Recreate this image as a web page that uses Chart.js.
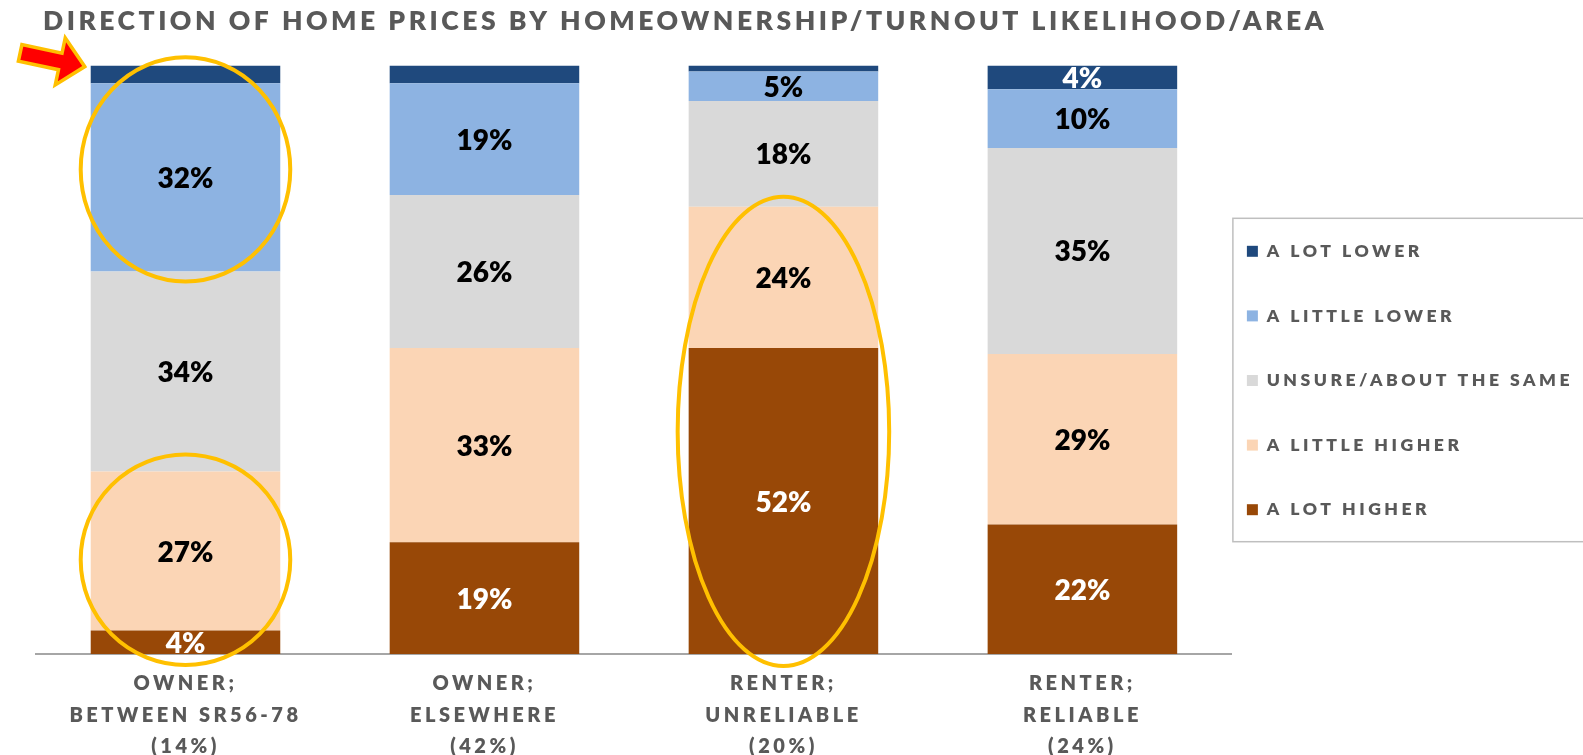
<!DOCTYPE html>
<html>
<head>
<meta charset="utf-8">
<script src="https://cdn.jsdelivr.net/npm/chart.js@4.4.1/dist/chart.umd.min.js"></script>
<style>
  html, body { margin: 0; padding: 0; background: #fff; }
</style>
</head>
<body>
<canvas id="homePrices" width="1583" height="755"></canvas>
<script>
// Values (100% stacked, bottom to top).
const chartTitle = 'DIRECTION OF HOME PRICES BY HOMEOWNERSHIP/TURNOUT LIKELIHOOD/AREA';
const categories = [
  ['OWNER;', 'BETWEEN SR56-78', '(14%)'],
  ['OWNER;', 'ELSEWHERE', '(42%)'],
  ['RENTER;', 'UNRELIABLE', '(20%)'],
  ['RENTER;', 'RELIABLE', '(24%)']
];
const seriesNames = ['A LOT HIGHER', 'A LITTLE HIGHER', 'UNSURE/ABOUT THE SAME', 'A LITTLE LOWER', 'A LOT LOWER'];
const aLotHigher = [4, 19, 52, 22];
const aLittleHigher = [27, 33, 24, 29];
const unsureSame = [34, 26, 18, 35];
const aLittleLower = [32, 19, 5, 10];
const aLotLower = [3, 3, 1, 4];

const seriesValues = [aLotHigher, aLittleHigher, unsureSame, aLittleLower, aLotLower];
const seriesColours = ['#984807', '#FBD5B5', '#D9D9D9', '#8DB3E2', '#1F497D'];
const labelColours = ['#FFFFFF', '#000000', '#000000', '#000000', '#FFFFFF'];

const GREY = '#595959';
const SPACING = '3.5px';
const HEAVY = '800';

// Canvas letter spacing for the caps text (title, ticks, legend).
const spacingPlugin = {
  id: 'spacing',
  beforeUpdate(chart) { chart.ctx.letterSpacing = SPACING; },
  beforeDraw(chart) { chart.ctx.letterSpacing = SPACING; },
  afterLayout(chart) {
    // nudge title and legend to where the slide has them
    let t = chart.titleBlock;
    t.left += 7; t.right += 7;
    let lg = chart.legend;
    let pad = lg.options.labels.padding;
    let dx = chart.chartArea.right + 15 - pad - lg.left;
    lg.left += dx; lg.right += dx;
    lg.top += 3; lg.bottom += 3;
  }
};

// Percent labels in the middle of each segment (small ones left out).
const segmentLabels = {
  id: 'segmentLabels',
  afterDatasetsDraw(chart) {
    let ctx = chart.ctx;
    ctx.save();
    ctx.letterSpacing = '0px';
    ctx.font = HEAVY + ' 28px Lato';
    ctx.textAlign = 'center';
    ctx.textBaseline = 'middle';
    chart.data.datasets.forEach(function (ds, i) {
      chart.getDatasetMeta(i).data.forEach(function (bar, j) {
        let v = ds.data[j];
        if (v < 4) return;
        ctx.fillStyle = labelColours[i];
        ctx.fillText(v + '%', bar.x, (bar.y + bar.base) / 2 + 1.5);
      });
    });
    ctx.restore();
  }
};

// Legend frame, highlight ellipses and the red arrow.
const decorations = {
  id: 'decorations',
  afterDraw(chart) {
    let ctx = chart.ctx;
    ctx.save();

    // legend frame
    let lg = chart.legend;
    let pad = lg.options.labels.padding;
    let fs = lg.options.labels.font.size;
    let colH = lg.columnSizes[0].height;
    let firstTop = (lg.top + pad + lg.bottom - colH) / 2;
    let firstMid = firstTop + fs / 2;
    let lastMid = firstMid + (seriesNames.length - 1) * (fs + pad);
    ctx.strokeStyle = '#BFBFBF';
    ctx.lineWidth = 1.5;
    ctx.strokeRect(lg.left + pad - 14, firstMid - 33, 400, lastMid - firstMid + 65);

    // ellipses around segments: [bar, first dataset, last dataset, padX, padY, shiftY]
    let rings = [[0, 3, 3, 10, 18, -8], [0, 0, 1, 10, 14, -3], [2, 0, 1, 11, 11, 1]];
    ctx.strokeStyle = '#FFC000';
    ctx.lineWidth = 4;
    rings.forEach(function (r) {
      let low = chart.getDatasetMeta(r[1]).data[r[0]];
      let high = chart.getDatasetMeta(r[2]).data[r[0]];
      let cy = (high.y + low.base) / 2 + r[5];
      let ry = (low.base - high.y) / 2 + r[4];
      ctx.beginPath();
      ctx.ellipse(low.x, cy, low.width / 2 + r[3], ry, 0, 0, Math.PI * 2);
      ctx.stroke();
    });

    // arrow pointing at the top-left corner of the first bar
    let top = chart.getDatasetMeta(4).data[0];
    ctx.translate(top.x - top.width / 2 - 6, top.y + 1);
    ctx.rotate(12 * Math.PI / 180);
    ctx.beginPath();
    ctx.moveTo(0, 0);
    ctx.lineTo(-25, -24);
    ctx.lineTo(-25, -8.5);
    ctx.lineTo(-66, -8.5);
    ctx.lineTo(-66, 8.5);
    ctx.lineTo(-25, 8.5);
    ctx.lineTo(-25, 24);
    ctx.closePath();
    ctx.fillStyle = '#FF0000';
    ctx.fill();
    ctx.strokeStyle = '#FFC000';
    ctx.lineWidth = 3.5;
    ctx.lineJoin = 'miter';
    ctx.stroke();

    ctx.restore();
  }
};

let datasets = [];
for (let i = 0; i < seriesNames.length; i++) {
  datasets.push({
    label: seriesNames[i],
    data: seriesValues[i],
    backgroundColor: seriesColours[i],
    borderWidth: 0,
    categoryPercentage: 1,
    barPercentage: 0.634
  });
}

let config = {
  type: 'bar',
  data: { labels: categories, datasets: datasets },
  options: {
    responsive: false,
    animation: false,
    layout: { padding: { left: 36, right: -32, top: 0, bottom: 0 } },
    scales: {
      x: {
        stacked: true,
        grid: { display: false, drawTicks: false },
        border: { display: true, color: '#A6A6A6', width: 2 },
        ticks: {
          color: GREY,
          padding: 14,
          maxRotation: 0,
          autoSkip: false,
          font: { family: 'Lato', weight: HEAVY, size: 20, lineHeight: 31.5 / 20 }
        },
        afterFit: function (scale) { scale.height = 101; }
      },
      y: {
        stacked: true,
        display: false,
        min: 0,
        max: 100
      }
    },
    plugins: {
      tooltip: { enabled: false },
      title: {
        display: true,
        text: chartTitle,
        align: 'start',
        color: GREY,
        font: { family: 'Lato', weight: HEAVY, size: 26.5, lineHeight: 1.2 },
        padding: { top: 5.6, bottom: 28.2 }
      },
      legend: {
        display: true,
        position: 'right',
        reverse: true,
        labels: {
          color: GREY,
          boxWidth: 11,
          boxHeight: 11,
          padding: 47,
          font: { family: 'Lato', weight: HEAVY, size: 17.6 }
        }
      }
    }
  },
  plugins: [spacingPlugin, segmentLabels, decorations]
};

let ctx = document.getElementById('homePrices').getContext('2d');
let homePrices = new Chart(ctx, config);
</script>
</body>
</html>
